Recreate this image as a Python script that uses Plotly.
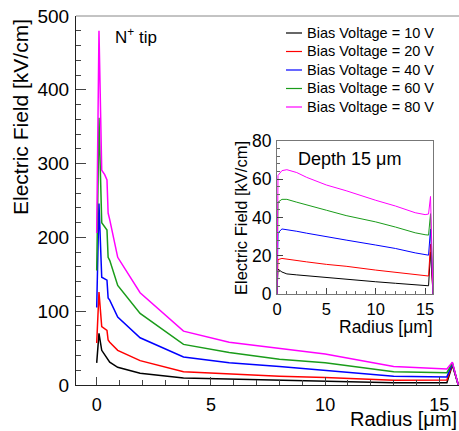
import plotly.graph_objects as go

# ---- data -------------------------------------------------------------
series_names = ["Bias Voltage = 10 V", "Bias Voltage = 20 V", "Bias Voltage = 40 V",
                "Bias Voltage = 60 V", "Bias Voltage = 80 V"]
series_colors = ["#000000", "#ff0000", "#0000ff", "#1a9c1a", "#ff00ff"]

# field along the N+ tip (main panel)
radius_tip = [0, 0.1, 0.22, 0.35, 0.45, 0.5, 0.57, 0.92, 1.9, 3.8, 5.8, 8, 10, 13, 15.33, 15.57, 15.83]
field_tip_10 = [30, 70, 47, 41, 38, 34, 31, 24, 16, 9.5, 8, 6, 5, 3, 3, 27, 0]
field_tip_20 = [57, 126, 79, 76, 74, 61, 58, 47, 33, 18, 15, 12, 10, 6.5, 6.8, 28, 0]
field_tip_40 = [105, 246, 146, 144, 142, 118, 115, 92, 64, 38, 30, 25, 20, 12, 11, 29, 0]
field_tip_60 = [155, 362, 220, 214, 210, 173, 169, 135, 97, 55, 44, 35, 30, 18, 16.7, 30, 0]
field_tip_80 = [206, 480, 291, 285, 278, 233, 224, 173, 125, 73, 58, 50, 42, 25, 21.7, 31, 0]
tip_fields = [field_tip_10, field_tip_20, field_tip_40, field_tip_60, field_tip_80]

# field at a depth of 15 um (inset)
radius_depth = [0, 0.1, 0.5, 1, 2, 3, 5, 7, 10, 12, 14, 15, 15.35, 15.55, 15.8]
field_depth_10 = [0, 13, 11.5, 10.5, 10, 9.5, 8.5, 7.7, 6.4, 5.6, 4.8, 4.4, 4.3, 22, 0]
field_depth_20 = [0, 18, 18.6, 18.2, 17.5, 16.8, 15.5, 14.5, 12.5, 11.4, 10.2, 9.6, 9.4, 26, 0]
field_depth_40 = [0, 32, 34, 33.7, 32.8, 31.8, 29.9, 28.2, 25.6, 23.8, 21.5, 20.5, 20.3, 34, 0]
field_depth_60 = [0, 48, 49.5, 49.5, 48, 46.5, 43.8, 41, 37.7, 35, 32, 31, 30.8, 42, 0]
field_depth_80 = [0, 62, 64.5, 65, 63.5, 61, 57, 54, 49, 46, 42.5, 41.5, 41.8, 51, 0]
depth_fields = [field_depth_10, field_depth_20, field_depth_40, field_depth_60, field_depth_80]

main_xticks = [0, 5, 10, 15]
main_yticks = [0, 100, 200, 300, 400, 500]
inset_xticks = [0, 5, 10, 15]
inset_yticks = [0, 20, 40, 60, 80]

# ---- figure -----------------------------------------------------------
W, H = 459, 431
FONT = "Liberation Sans, Arial, Helvetica, sans-serif"

fig = go.Figure()

for name, color, ys in zip(series_names, series_colors, tip_fields):
    fig.add_trace(go.Scatter(x=radius_tip, y=ys, mode="lines", name=name,
                             line=dict(color=color, width=1.5),
                             xaxis="x", yaxis="y", showlegend=False))

for name, color, ys in zip(series_names, series_colors, depth_fields):
    fig.add_trace(go.Scatter(x=radius_depth, y=ys, mode="lines", name=name,
                             line=dict(color=color, width=1),
                             xaxis="x2", yaxis="y2", showlegend=False))


def px(x):
    return x / W


def py(y):
    return 1 - y / H


axis_common = dict(showgrid=False, zeroline=False, ticks="inside", automargin=False,
                   tickcolor="#444", color="#000", showline=True,
                   linecolor="#222", linewidth=1)

fig.update_layout(
    width=W, height=H,
    margin=dict(l=0, r=0, t=0, b=0, pad=0, autoexpand=False),
    paper_bgcolor="white", plot_bgcolor="white",
    font=dict(family=FONT, color="#000"),
    xaxis=dict(domain=[px(76), 1.0], range=[-0.906, 15.86], anchor="y",
               tickvals=main_xticks, ticklen=8, tickfont=dict(size=18),
               ticklabelstandoff=3,
               minor=dict(dtick=1, tick0=0, ticklen=5, ticks="inside", tickcolor="#444"),
               **axis_common),
    yaxis=dict(domain=[py(385), py(16)], range=[0, 500], anchor="x",
               tickvals=main_yticks, ticklen=10, tickfont=dict(size=19),
               ticklabelstandoff=2,
               minor=dict(dtick=20, tick0=0, ticklen=5, ticks="inside", tickcolor="#444"),
               **axis_common),
    xaxis2=dict(domain=[px(277), px(433)], range=[0, 15.8], anchor="y2",
                tickvals=inset_xticks, ticklen=6, tickfont=dict(size=16.5),
                ticklabelstandoff=0, mirror=True,
                minor=dict(dtick=1, tick0=0, ticklen=3, ticks="inside", tickcolor="#666"),
                **{**axis_common, "linecolor": "#777"}),
    yaxis2=dict(domain=[py(294), py(141)], range=[0, 80], anchor="x2",
                tickvals=inset_yticks, ticklen=6, tickfont=dict(size=17.5),
                ticklabelstandoff=1, mirror=True,
                minor=dict(dtick=4, tick0=0, ticklen=3, ticks="inside", tickcolor="#666"),
                **{**axis_common, "linecolor": "#777"}),
)

# top border of the main frame
fig.add_shape(type="line", xref="paper", yref="paper",
              x0=px(76), x1=1.0, y0=py(16), y1=py(16),
              line=dict(color="#888", width=1))

annotations = [
    dict(text="Electric Field [kV/cm]", x=px(20), y=py(117), textangle=-90,
         xanchor="center", yanchor="middle", font=dict(size=21)),
    dict(text="Radius [μm]", x=px(459), y=py(419), xanchor="right", yanchor="middle",
         font=dict(size=20)),
    dict(text="N<sup>+</sup> tip", x=px(113), y=py(36), xanchor="left", yanchor="middle",
         font=dict(size=17)),
    dict(text="Depth 15 μm", x=px(296), y=py(159), xanchor="left", yanchor="middle",
         font=dict(size=18)),
    dict(text="Electric Field [kV/cm]", x=px(241), y=py(218), textangle=-90,
         xanchor="center", yanchor="middle", font=dict(size=16.5)),
    dict(text="Radius [μm]", x=px(435), y=py(327), xanchor="right", yanchor="middle",
         font=dict(size=17.5)),
]

# legend block in the upper right
legend_rows = [33, 51.5, 70, 88.5, 107]
for name, color, row in zip(series_names, series_colors, legend_rows):
    fig.add_shape(type="line", xref="paper", yref="paper",
                  x0=px(286), x1=px(302), y0=py(row), y1=py(row),
                  line=dict(color=color, width=1.2))
    annotations.append(dict(text=name, x=px(305), y=py(row), xanchor="left",
                            yanchor="middle", font=dict(size=14.5)))

for a in annotations:
    a.update(xref="paper", yref="paper", showarrow=False)
fig.update_layout(annotations=annotations)

fig.write_html("out.html")
